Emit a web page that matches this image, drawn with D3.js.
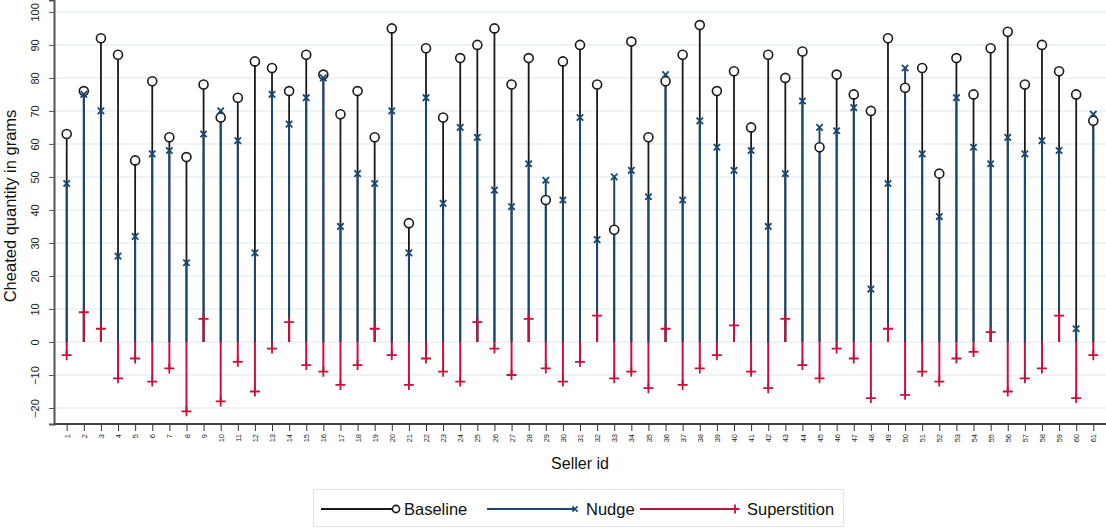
<!DOCTYPE html>
<html>
<head>
<meta charset="utf-8">
<script src="https://d3js.org/d3.v7.min.js"></script>
<style>
  body { margin: 0; background: #fff; }
  svg { font-family: Arial, "Liberation Sans", sans-serif; }
</style>
</head>
<body>
<svg id="chart" width="1106" height="529"></svg>
<script>
// seller ids 1..61
const sellers = d3.range(1, 62);

const baseline = [63, 76, 92, 87, 55, 79, 62, 56, 78, 68, 74, 85, 83, 76, 87, 81, 69, 76, 62, 95,
  36, 89, 68, 86, 90, 95, 78, 86, 43, 85, 90, 78, 34, 91, 62, 79, 87, 96, 76, 82,
  65, 87, 80, 88, 59, 81, 75, 70, 92, 77, 83, 51, 86, 75, 89, 94, 78, 90, 82, 75, 67];

const nudge = [48, 75, 70, 26, 32, 57, 58, 24, 63, 70, 61, 27, 75, 66, 74, 80, 35, 51, 48, 70,
  27, 74, 42, 65, 62, 46, 41, 54, 49, 43, 68, 31, 50, 52, 44, 81, 43, 67, 59, 52,
  58, 35, 51, 73, 65, 64, 71, 16, 48, 83, 57, 38, 74, 59, 54, 62, 57, 61, 58, 4, 69];

const superstition = [-4, 9, 4, -11, -5, -12, -8, -21, 7, -18, -6, -15, -2, 6, -7, -9, -13, -7, 4, -4,
  -13, -5, -9, -12, 6, -2, -10, 7, -8, -12, -6, 8, -11, -9, -14, 4, -13, -8, -4, 5,
  -9, -14, 7, -7, -11, -2, -5, -17, 4, -16, -9, -12, -5, -3, 3, -15, -11, -8, 8, -17, -4];

const yTicks = [-20, -10, 0, 10, 20, 30, 40, 50, 60, 70, 80, 90, 100];

const colBase = "#1a1a1a", colNudge = "#1a476f", colSup = "#c8103c";

const svg = d3.select("#chart");
const plotL = 54, plotR = 1106, plotT = 0, plotB = 424;

const x = d3.scaleLinear().domain([1, 61]).range([66.7, 1093.3]);
const y = d3.scaleLinear().domain([-24.85, 103.6]).range([plotB, plotT]);

// gridlines
svg.append("g")
  .selectAll("line")
  .data(yTicks)
  .join("line")
  .attr("x1", plotL).attr("x2", plotR)
  .attr("y1", d => y(d)).attr("y2", d => y(d))
  .attr("stroke", "#e8eff3").attr("stroke-width", 1.5);

// y axis
const yAxis = svg.append("g")
  .attr("transform", `translate(${plotL},0)`)
  .call(d3.axisLeft(y).tickValues(yTicks).tickSize(5));
yAxis.select(".domain").attr("stroke", "#555").attr("stroke-width", 2);
yAxis.selectAll(".tick line").attr("stroke", "#555");
yAxis.selectAll(".tick text")
  .attr("font-size", 11).attr("fill", "#222")
  .attr("text-anchor", "middle")
  .attr("x", null).attr("dy", "0.35em")
  .attr("transform", "translate(-19,0) rotate(-90)");

// x axis
const xAxis = svg.append("g")
  .attr("transform", `translate(0,${plotB})`)
  .call(d3.axisBottom(x).tickValues(sellers).tickSize(7).tickFormat(d3.format("d")));
xAxis.select(".domain").attr("d", `M${plotL},0H${plotR}`).attr("stroke", "#444").attr("stroke-width", 2);
xAxis.selectAll(".tick line").attr("stroke", "#333");
xAxis.selectAll(".tick text")
  .attr("font-size", 7.5).attr("fill", "#222")
  .attr("text-anchor", "end")
  .attr("transform", "translate(0,10) rotate(-90)")
  .attr("x", 0).attr("y", 0).attr("dy", "0.35em");

// stems: baseline, then nudge, then superstition on top
function stems(vals, color, width) {
  svg.append("g")
    .selectAll("line")
    .data(vals)
    .join("line")
    .attr("x1", (d, i) => x(sellers[i])).attr("x2", (d, i) => x(sellers[i]))
    .attr("y1", y(0)).attr("y2", d => y(d))
    .attr("stroke", color).attr("stroke-width", width);
}
stems(baseline, colBase, 1.8);
stems(nudge, colNudge, 2);
stems(superstition, colSup, 2);

// markers
svg.append("g")
  .selectAll("circle")
  .data(baseline)
  .join("circle")
  .attr("cx", (d, i) => x(sellers[i])).attr("cy", d => y(d))
  .attr("r", 4.5).attr("fill", "#fff")
  .attr("stroke", colBase).attr("stroke-width", 1.6);

const xm = 3.2;
svg.append("g")
  .selectAll("path")
  .data(nudge)
  .join("path")
  .attr("d", (d, i) => {
    const cx = x(sellers[i]), cy = y(d);
    return `M${cx - xm},${cy - xm}L${cx + xm},${cy + xm}M${cx - xm},${cy + xm}L${cx + xm},${cy - xm}`;
  })
  .attr("stroke", colNudge).attr("stroke-width", 1.8);

const pm = 5;
svg.append("g")
  .selectAll("path")
  .data(superstition)
  .join("path")
  .attr("d", (d, i) => {
    const cx = x(sellers[i]), cy = y(d);
    return `M${cx - pm},${cy}L${cx + pm},${cy}M${cx},${cy - pm}L${cx},${cy + pm}`;
  })
  .attr("stroke", colSup).attr("stroke-width", 1.8);

// axis titles
svg.append("text")
  .attr("transform", `translate(16,206) rotate(-90)`)
  .attr("text-anchor", "middle")
  .attr("font-size", 16.5).attr("fill", "#111")
  .text("Cheated quantity in grams");

svg.append("text")
  .attr("x", (plotL + plotR) / 2).attr("y", 469)
  .attr("text-anchor", "middle")
  .attr("font-size", 16).attr("fill", "#111")
  .text("Seller id");

// legend
const leg = svg.append("g");
leg.append("rect")
  .attr("x", 313.5).attr("y", 489.5).attr("width", 530).attr("height", 37)
  .attr("fill", "#fff").attr("stroke", "#dde6ea");

const ly = 509;
const legendItems = [
  { label: "Baseline", color: colBase, x0: 321, x1: 396, tx: 404, mark: "o" },
  { label: "Nudge", color: colNudge, x0: 487, x1: 575, tx: 586, mark: "x" },
  { label: "Superstition", color: colSup, x0: 640, x1: 735, tx: 747, mark: "+" }
];
legendItems.forEach(it => {
  leg.append("line")
    .attr("x1", it.x0).attr("x2", it.x1).attr("y1", ly).attr("y2", ly)
    .attr("stroke", it.color).attr("stroke-width", 1.8);
  if (it.mark === "o") {
    leg.append("circle").attr("cx", it.x1).attr("cy", ly).attr("r", 3.6)
      .attr("fill", "#fff").attr("stroke", it.color).attr("stroke-width", 1.6);
  } else if (it.mark === "x") {
    const m = 2.6;
    leg.append("path")
      .attr("d", `M${it.x1 - m},${ly - m}L${it.x1 + m},${ly + m}M${it.x1 - m},${ly + m}L${it.x1 + m},${ly - m}`)
      .attr("stroke", it.color).attr("stroke-width", 1.6);
  } else {
    const m = 4.5;
    leg.append("path")
      .attr("d", `M${it.x1 - m},${ly}L${it.x1 + m},${ly}M${it.x1},${ly - m}L${it.x1},${ly + m}`)
      .attr("stroke", it.color).attr("stroke-width", 1.8);
  }
  leg.append("text")
    .attr("x", it.tx).attr("y", ly + 6)
    .attr("font-size", 16.5).attr("fill", "#111")
    .text(it.label);
});
</script>
</body>
</html>
